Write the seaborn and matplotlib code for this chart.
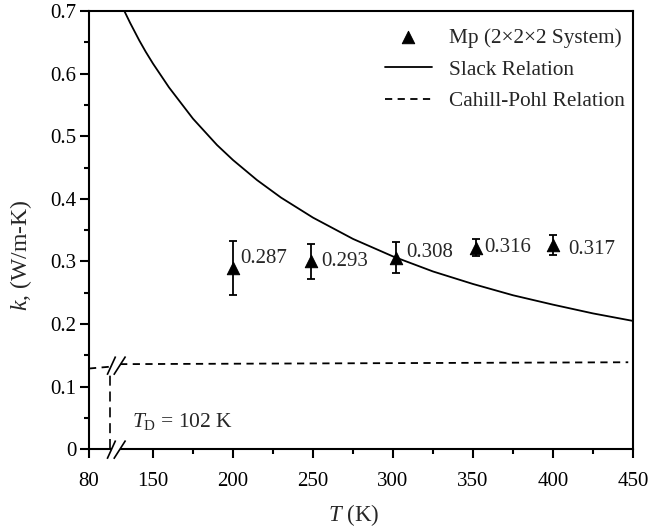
import numpy as np
import pandas as pd
import matplotlib
matplotlib.use("Agg")
import matplotlib.pyplot as plt
from matplotlib.path import Path
import seaborn as sns

# ---------------- data ----------------
mp_T = [200, 249, 302, 352, 400]
mp_k = [0.290, 0.300, 0.306, 0.322, 0.327]
mp_err = [0.043, 0.028, 0.025, 0.0135, 0.016]
mp_labels = ["0.287", "0.293", "0.308", "0.316", "0.317"]

slack_T = [116, 125, 135, 142, 150, 160, 175, 190, 200, 215, 230, 250, 275,
           300, 325, 350, 375, 400, 425, 450]
slack_k = [0.708, 0.681, 0.653, 0.635, 0.616, 0.578, 0.528, 0.486, 0.462,
           0.430, 0.402, 0.370, 0.336, 0.308, 0.284, 0.264, 0.246, 0.231,
           0.217, 0.205]

cp_left_T = [80, 104]
cp_left_k = [0.129, 0.132]
cp_right_T = [114, 447]
cp_right_k = [0.136, 0.139]

debye_T = 103
debye_k_top = 0.122
break_T = 109.6

x_ticks = [80, 150, 200, 250, 300, 350, 400, 450]
x_ticklabels = ["80", "150", "200", "250", "300", "350", "400", "450"]
x_minor = [175, 225, 275, 325, 375, 425]
y_ticks = [0, 0.1, 0.2, 0.3, 0.4, 0.5, 0.6, 0.7]
y_ticklabels = ["0", "0.1", "0.2", "0.3", "0.4", "0.5", "0.6", "0.7"]
y_minor = [0.05, 0.15, 0.25, 0.35, 0.45, 0.55, 0.65]

# ---------------- style ----------------
sns.set_theme(style="ticks")
plt.rcParams["font.family"] = ["Liberation Serif", "DejaVu Serif"]
plt.rcParams["mathtext.fontset"] = "custom"
plt.rcParams["mathtext.rm"] = "Liberation Serif"
plt.rcParams["mathtext.it"] = "Liberation Serif:italic"
FS = 15

fig = plt.figure(figsize=(6.51, 5.30), dpi=100)
ax = fig.add_axes([0.1367, 0.1523, 0.9724 - 0.1367, 0.9792 - 0.1523])

# broken x-axis: compress the region below 150 K
def fwd(x):
    x = np.asarray(x, dtype=float)
    return np.where(x < 150, 150 - (150 - x) * 4.0 / 7.0, x)

def inv(u):
    u = np.asarray(u, dtype=float)
    return np.where(u < 150, 150 - (150 - u) * 7.0 / 4.0, u)

ax.set_xscale("function", functions=(fwd, inv))

slack_df = pd.DataFrame({"T": slack_T, "k": slack_k})
cpl_df = pd.DataFrame({"T": cp_left_T, "k": cp_left_k})
cpr_df = pd.DataFrame({"T": cp_right_T, "k": cp_right_k})
mp_df = pd.DataFrame({"T": mp_T, "k": mp_k})

# Slack relation
sns.lineplot(data=slack_df, x="T", y="k", ax=ax, color="black", lw=1.3,
             label="Slack Relation", sort=True)
# Cahill-Pohl relation
sns.lineplot(data=cpl_df, x="T", y="k", ax=ax, color="black", lw=1.3,
             linestyle=(0, (4, 3)))
sns.lineplot(data=cpr_df, x="T", y="k", ax=ax, color="black", lw=1.3,
             linestyle=(0, (4, 3)), label="Cahill-Pohl Relation")

# error bars + markers
ax.errorbar(mp_T, mp_k, yerr=mp_err, fmt="none", ecolor="black",
            elinewidth=1.3, capsize=3, capthick=1.3, zorder=4)
sns.scatterplot(data=mp_df, x="T", y="k", ax=ax, marker="^", s=80,
                color="black", edgecolor="black", zorder=5,
                label="Mp (2\u00d72\u00d72 System)")

# value labels
offsets = [(5, 6.3), (7, 0.3), (7, 4), (6, 0), (11, -3.6)]
for T, k, lab, (dx, dy) in zip(mp_T, mp_k, mp_labels, offsets):
    ax.annotate(lab, (T, k), xytext=(dx, dy), textcoords="offset points",
                ha="left", va="center", fontsize=FS)

# Debye temperature line
ax.plot([debye_T, debye_T], [0, debye_k_top], color="black", lw=1.2,
        linestyle=(0, (6, 3.5)))
ax.text(127, 0.045, r"$T_{\rm D}$ = 102 K", fontsize=FS + 0.5, ha="left",
        va="center")

# axis break marks
gap_path = Path([(-1, -1), (-0.29, -1), (0.97, 0.97), (-0.1, 0.97), (-1, -1)],
                [Path.MOVETO, Path.LINETO, Path.LINETO, Path.LINETO,
                 Path.CLOSEPOLY])
slash_path = Path([(-1, -1), (-0.1, 0.97), (-0.29, -1), (0.97, 0.97)],
                  [Path.MOVETO, Path.LINETO, Path.MOVETO, Path.LINETO])
for yb in (0.0, 0.1345):
    ax.plot([break_T], [yb], marker=gap_path, ms=13.4, mfc="white",
            mec="none", ls="none", clip_on=False, zorder=6)
    ax.plot([break_T], [yb], marker=slash_path, ms=13.4, mfc="none",
            mec="black", mew=1.2, ls="none", clip_on=False, zorder=7)

# axes
ax.set_xlim(80, 450)
ax.set_ylim(0, 0.7)
ax.set_xticks(x_ticks)
ax.set_xticklabels(x_ticklabels)
ax.set_xticks(x_minor, minor=True)
ax.set_yticks(y_ticks)
ax.set_yticklabels(y_ticklabels)
ax.set_yticks(y_minor, minor=True)
ax.tick_params(which="major", direction="out", length=6.5, width=1.5,
               labelsize=FS, color="black", labelcolor="black")
ax.tick_params(axis="x", which="major", pad=10)
ax.tick_params(axis="y", which="major", pad=2.5)
ax.tick_params(which="minor", direction="out", length=3.5, width=1.5,
               color="black")
for sp in ax.spines.values():
    sp.set_visible(True)
    sp.set_linewidth(1.5)
    sp.set_color("black")

ax.set_xlabel(r"$T$ (K)", fontsize=FS + 1.5)
ax.set_ylabel(r"$k$, (W/m-K)", fontsize=FS + 2)
ax.xaxis.set_label_coords(0.487, -0.12)
ax.yaxis.set_label_coords(-0.101, 0.443)

# legend
handles, labels = ax.get_legend_handles_labels()
order = [labels.index("Mp (2\u00d72\u00d72 System)"),
         labels.index("Slack Relation"),
         labels.index("Cahill-Pohl Relation")]
leg = ax.legend([handles[i] for i in order], [labels[i] for i in order],
                loc="upper right", bbox_to_anchor=(1.012, 0.995),
                frameon=False, fontsize=FS + 0.3, handlelength=2.2,
                handletextpad=0.8, labelspacing=0.55, borderaxespad=0.3)

fig.savefig("out.png", dpi=100)
